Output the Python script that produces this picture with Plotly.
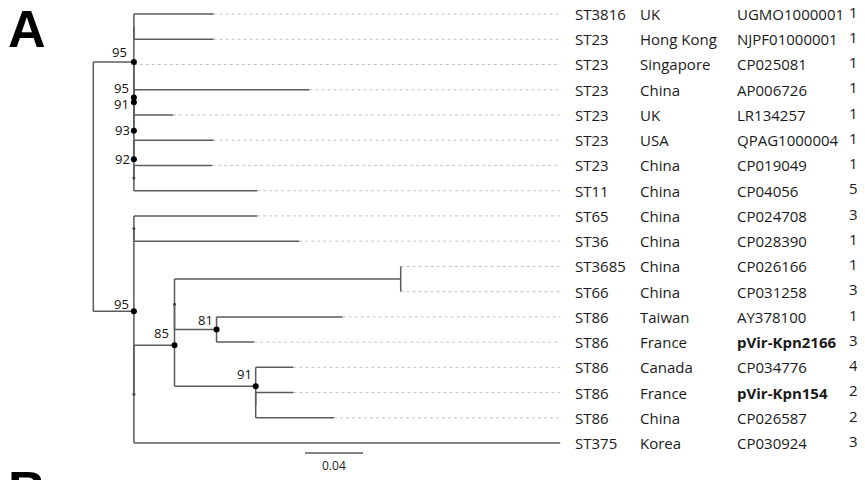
import plotly.graph_objects as go

# ---------------- data ----------------
ST = ["ST3816", "ST23", "ST23", "ST23", "ST23", "ST23", "ST23", "ST11", "ST65",
      "ST36", "ST3685", "ST66", "ST86", "ST86", "ST86", "ST86", "ST86", "ST375"]
COUNTRY = ["UK", "Hong Kong", "Singapore", "China", "UK", "USA", "China", "China", "China",
           "China", "China", "China", "Taiwan", "France", "Canada", "France", "China", "Korea"]
ACCESSION = ["UGMO1000001", "NJPF01000001", "CP025081", "AP006726", "LR134257", "QPAG1000004",
             "CP019049", "CP04056", "CP024708", "CP028390", "CP026166", "CP031258", "AY378100",
             "pVir-Kpn2166", "CP034776", "pVir-Kpn154", "CP026587", "CP030924"]
COUNT = ["1", "1", "1", "1", "1", "1", "1", "5", "3", "1", "1", "3", "1", "3", "4", "2", "2", "3"]
HIGHLIGHT = ["pVir-Kpn2166", "pVir-Kpn154"]

# tree (branch lengths in substitutions/site, internal labels = bootstrap, * = unlabelled node)
UPPER = ("((UGMO1000001:0.055,NJPF01000001:0.055):0,(CP025081:0,((AP006726:0.121,LR134257:0.027)91:0,"
         "(QPAG1000004:0.055,(CP019049:0.054,CP04056:0.085)*:0)92:0)93:0)95:0)95:0.028")
LOWER = ("((CP024708:0.085,CP028390:0.114)*:0,((((CP026166:0,CP031258:0):0.156,"
         "(AY378100:0.087,pVir-Kpn2166:0.026)81:0.029)*:0,(CP034776:0.026,"
         "(pVir-Kpn154:0.026,CP026587:0.054):0)91:0.056)85:0.028,CP030924:0.294)*:0)95:0.028")
NEWICK = "(" + UPPER + "," + LOWER + ");"
SCALE_LEN = 0.04

# ---------------- styling / geometry constants ----------------
PAGE_W, PAGE_H = 865, 480
OFF = 8                      # browser body margin
W, H = PAGE_W - OFF, PAGE_H - OFF
ROOT_PX = 93.3
PX_PER_UNIT = 1450.0
ROW0_PX = 14.0
ROW_PX = 25.24
LINE_COLOR = "#5a5a5a"
FONT = "Open Sans"
LABEL_SHIFT = [10, 10, 1, -2, 0, 7, 12, 10, 12]  # vertical offsets of bootstrap labels (preorder)
LABEL_XSHIFT = [-5, -3, -2, -3, -2, -3, -4, -2, -2]


def px2x(px):
    return (px - ROOT_PX) / PX_PER_UNIT


def px2row(py):
    return (py - ROW0_PX) / ROW_PX


def px2paperx(px):
    return (px - OFF) / W


def px2papery(py):
    return 1 - (py - OFF) / H


# ---------------- newick parsing ----------------
class Node:
    def __init__(self):
        self.children = []
        self.name = ""
        self.length = 0.0
        self.x = 0.0
        self.y = 0.0


def parse(s):
    pos = [0]

    def node():
        n = Node()
        if s[pos[0]] == "(":
            pos[0] += 1
            while True:
                n.children.append(node())
                c = s[pos[0]]
                pos[0] += 1
                if c == ")":
                    break
        start = pos[0]
        while s[pos[0]] not in ":,);":
            pos[0] += 1
        n.name = s[start:pos[0]]
        if s[pos[0]] == ":":
            pos[0] += 1
            start = pos[0]
            while s[pos[0]] not in ",);":
                pos[0] += 1
            n.length = float(s[start:pos[0]])
        return n

    return node()


root = parse(NEWICK)


def layout(n, depth):
    n.x = depth + n.length
    if not n.children:
        n.y = ACCESSION.index(n.name)
    else:
        for c in n.children:
            layout(c, n.x)
        n.y = (n.children[0].y + n.children[-1].y) / 2


layout(root, 0.0)

seg_x, seg_y = [], []
lead_x, lead_y = [], []
dots_big, dots_small, labels = [], [], []
leaves = []


def walk(n):
    if n.children:
        seg_x.extend([n.x, n.x, None])
        seg_y.extend([n.children[0].y, n.children[-1].y, None])
        for c in n.children:
            seg_x.extend([n.x, c.x, None])
            seg_y.extend([c.y, c.y, None])
        if n.name == "*":
            dots_small.append((n.x, n.y))
        elif n.name:
            dots_big.append((n.x, n.y))
            labels.append((n.x, n.y, n.name))
        for c in n.children:
            walk(c)
    else:
        leaves.append(n)


walk(root)
tip_max = max(l.x for l in leaves)
for l in leaves:
    if l.x < tip_max - 1e-9:
        lead_x.extend([l.x, tip_max, None])
        lead_y.extend([l.y, l.y, None])

fig = go.Figure()
fig.add_trace(go.Scatter(x=lead_x, y=lead_y, mode="lines",
                         line=dict(color="#c4c4c4", width=1, dash="dot"), hoverinfo="skip"))
fig.add_trace(go.Scatter(x=seg_x, y=seg_y, mode="lines",
                         line=dict(color=LINE_COLOR, width=1.5), hoverinfo="skip"))
fig.add_trace(go.Scatter(x=[d[0] for d in dots_small], y=[d[1] for d in dots_small], mode="markers",
                         marker=dict(color="#444", size=3), hoverinfo="skip"))
fig.add_trace(go.Scatter(x=[d[0] for d in dots_big], y=[d[1] for d in dots_big], mode="markers",
                         marker=dict(color="#000", size=6), hoverinfo="skip"))

ann = []
for i, (x, y, t) in enumerate(labels):
    ann.append(dict(x=x, y=y, xref="x", yref="y", text=t, showarrow=False,
                    xanchor="right", yanchor="middle", xshift=LABEL_XSHIFT[i], yshift=LABEL_SHIFT[i],
                    font=dict(family=FONT, size=13, color="#111")))

COL_PX = [573, 638, 735]
for i in range(len(ST)):
    acc = "<b>%s</b>" % ACCESSION[i] if ACCESSION[i] in HIGHLIGHT else ACCESSION[i]
    for cpx, txt in zip(COL_PX, [ST[i], COUNTRY[i], acc]):
        ann.append(dict(x=px2paperx(cpx), y=i, xref="paper", yref="y", text=txt, showarrow=False,
                        xanchor="left", yanchor="middle",
                        font=dict(family=FONT, size=15, color="#1a1a1a")))

# last (partly visible) column as a text trace so it is clipped by the page edge
fig.add_trace(go.Scatter(x=[px2x(849)] * len(COUNT), y=list(range(len(COUNT))), mode="text",
                         text=COUNT, textposition="middle right", cliponaxis=False,
                         textfont=dict(family=FONT, size=15, color="#1a1a1a"), hoverinfo="skip"))

# scale bar
sb_x0 = px2x(305)
sb_row = px2row(453)
fig.add_shape(type="line", x0=sb_x0, x1=sb_x0 + SCALE_LEN, y0=sb_row, y1=sb_row,
              xref="x", yref="y", line=dict(color=LINE_COLOR, width=1.5))
ann.append(dict(x=sb_x0 + SCALE_LEN / 2, y=px2row(465), xref="x", yref="y", text=str(SCALE_LEN),
                showarrow=False, xanchor="center", yanchor="middle",
                font=dict(family=FONT, size=12, color="#222")))

# panel letters
ann.append(dict(x=px2paperx(6), y=px2papery(29), xref="paper", yref="paper", text="<b>A</b>",
                showarrow=False, xanchor="left", yanchor="middle",
                font=dict(family="Liberation Sans", size=52, color="#000")))
ann.append(dict(x=px2paperx(6), y=px2papery(490), xref="paper", yref="paper", text="<b>B</b>",
                showarrow=False, xanchor="left", yanchor="middle",
                font=dict(family="Liberation Sans", size=52, color="#000")))

fig.update_layout(
    width=W, height=H, margin=dict(l=0, r=0, t=0, b=0),
    paper_bgcolor="white", plot_bgcolor="white", showlegend=False,
    xaxis=dict(range=[px2x(OFF), px2x(OFF + W)], visible=False, fixedrange=True),
    yaxis=dict(range=[px2row(OFF + H), px2row(OFF)], visible=False, fixedrange=True),
    annotations=ann,
)

fig.write_html("out.html")
